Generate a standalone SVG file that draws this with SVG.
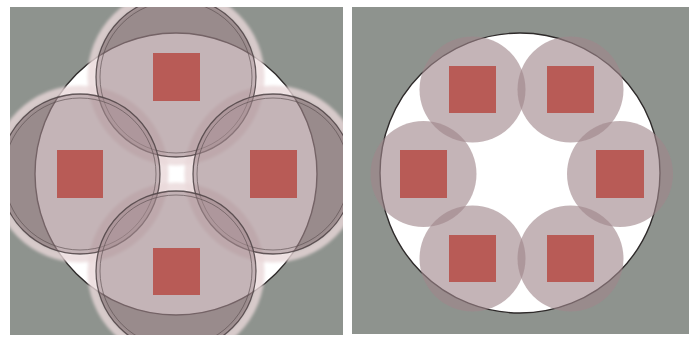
<svg xmlns="http://www.w3.org/2000/svg" width="694" height="338" viewBox="0 0 694 338">
<style>
.bg{fill:#8e938e}
.disk{fill:#ffffff}
.rim{fill:none;stroke:#2e2a2a;stroke-width:1.4}
.cell{fill:rgb(160,134,138);fill-opacity:0.62}
.glow{fill:none;stroke:#ead8da;stroke-width:9;stroke-opacity:0.8}
.ring{fill:none;stroke:#4e4244;stroke-width:1.3;stroke-opacity:0.85}
.ring2{fill:none;stroke:#5e5052;stroke-width:1;stroke-opacity:0.65}
.sq{fill:#b85b56}
</style>
<defs>
<clipPath id="clipL"><rect x="10" y="7" width="333" height="328"/></clipPath>
<clipPath id="clipR"><rect x="352" y="7" width="337" height="327"/></clipPath>
<filter id="soft" x="-10%" y="-10%" width="120%" height="120%"><feGaussianBlur stdDeviation="1.6"/></filter>
<filter id="soft2" x="-10%" y="-10%" width="120%" height="120%"><feGaussianBlur stdDeviation="0.7"/></filter>
</defs>
<rect x="0" y="0" width="694" height="338" fill="#ffffff"/>

<g id="panel-left" clip-path="url(#clipL)">
<rect class="bg" x="10" y="7" width="333" height="328"/>
<circle class="disk" cx="176" cy="174" r="141"/>
<circle class="rim" cx="176" cy="174" r="141"/>
<g id="glows-left" filter="url(#soft)">
<circle class="glow" cx="176" cy="77" r="84"/>
<circle class="glow" cx="80" cy="174" r="84"/>
<circle class="glow" cx="273" cy="174" r="84"/>
<circle class="glow" cx="176" cy="271" r="84"/>
</g>
<g id="cell-top">
<circle class="cell" cx="176" cy="77" r="80"/>
<circle class="ring" cx="176" cy="77" r="80"/>
<circle class="ring2" cx="176" cy="77" r="76"/>
<rect class="sq" x="153" y="53" width="47" height="48"/>
</g>
<g id="cell-left">
<circle class="cell" cx="80" cy="174" r="80"/>
<circle class="ring" cx="80" cy="174" r="80"/>
<circle class="ring2" cx="80" cy="174" r="76"/>
<rect class="sq" x="57" y="150" width="46" height="48"/>
</g>
<g id="cell-right">
<circle class="cell" cx="273" cy="174" r="80"/>
<circle class="ring" cx="273" cy="174" r="80"/>
<circle class="ring2" cx="273" cy="174" r="76"/>
<rect class="sq" x="250" y="150" width="47" height="48"/>
</g>
<g id="cell-bottom">
<circle class="cell" cx="176" cy="271" r="80"/>
<circle class="ring" cx="176" cy="271" r="80"/>
<circle class="ring2" cx="176" cy="271" r="76"/>
<rect class="sq" x="153" y="248" width="47" height="47"/>
</g>
</g>

<g id="panel-right" clip-path="url(#clipR)">
<rect class="bg" x="352" y="7" width="337" height="327"/>
<circle class="disk" cx="520" cy="173" r="140"/>
<circle class="rim" cx="520" cy="173" r="140"/>
<g id="cells-right" filter="url(#soft2)">
<g id="hex-top-left"><circle class="cell" cx="472.5" cy="89.5" r="53"/></g>
<g id="hex-top-right"><circle class="cell" cx="570.5" cy="89.5" r="53"/></g>
<g id="hex-left"><circle class="cell" cx="423.5" cy="174" r="53"/></g>
<g id="hex-right"><circle class="cell" cx="620" cy="174" r="53"/></g>
<g id="hex-bottom-left"><circle class="cell" cx="472.5" cy="258.5" r="53"/></g>
<g id="hex-bottom-right"><circle class="cell" cx="570.5" cy="258.5" r="53"/></g>
</g>
<g id="hex-squares">
<rect class="sq" x="449" y="66" width="47" height="47"/>
<rect class="sq" x="547" y="66" width="47" height="47"/>
<rect class="sq" x="400" y="150" width="47" height="48"/>
<rect class="sq" x="596" y="150" width="48" height="48"/>
<rect class="sq" x="449" y="235" width="47" height="47"/>
<rect class="sq" x="547" y="235" width="47" height="47"/>
</g>
</g>
</svg>
